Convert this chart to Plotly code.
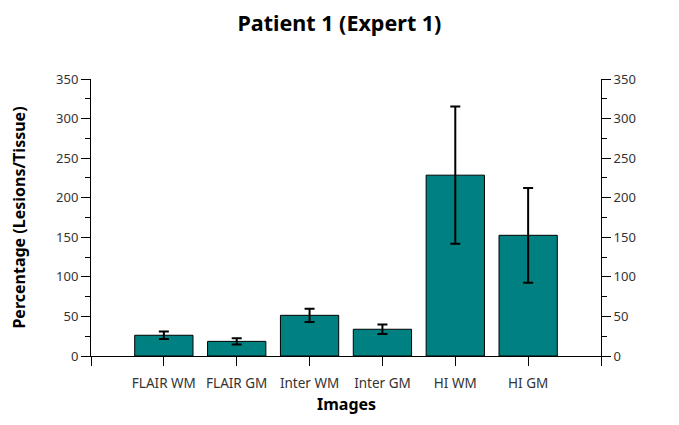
import plotly.graph_objects as go

categories = ["FLAIR WM", "FLAIR GM", "Inter WM", "Inter GM", "HI WM", "HI GM"]
percentages = [26.2, 18.5, 51.4, 33.8, 228.5, 152.5]
errors = [4.8, 4.0, 8.4, 6.1, 86.7, 59.8]
y_ticks = [0, 50, 100, 150, 200, 250, 300, 350]

positions = list(range(len(categories)))
x_tickvals = [-1] + positions + [len(categories)]
x_ticktext = [""] + categories + [""]

FONT = "Noto Sans"

fig = go.Figure()
fig.add_trace(go.Bar(
    x=positions, y=percentages, width=0.8,
    marker=dict(color="#008080", line=dict(color="black", width=1)),
    error_y=dict(type="data", array=errors, color="black", thickness=2, width=5),
    showlegend=False,
))
# invisible trace to drive the mirrored right axis
fig.add_trace(go.Scatter(x=[positions[0]], y=[0], yaxis="y2", mode="markers",
                         marker=dict(opacity=0), showlegend=False, hoverinfo="skip"))

axis_common = dict(
    range=[0, 350], tickvals=y_ticks, ticks="outside", ticklen=9, tickwidth=1,
    tickcolor="black", showline=True, linecolor="black", linewidth=1, automargin=False,
    showgrid=False, zeroline=False, tickfont=dict(family=FONT, size=13, color="#333"),
    minor=dict(dtick=25, ticks="outside", ticklen=5, tickcolor="black", showgrid=False),
)

# page body has an 8px margin, so the figure is sized to fit inside the window
fig.update_layout(
    width=671, height=417,
    margin=dict(l=83, r=78, t=71, b=69),
    plot_bgcolor="white", paper_bgcolor="white",
    title=dict(text="<b>Patient 1 (Expert 1)</b>", x=0.494, xanchor="center",
               y=0.980, yanchor="top", yref="container",
               font=dict(family=FONT, size=21.5, color="black")),
    xaxis=dict(
        range=[-1, len(categories)], tickvals=x_tickvals, ticktext=x_ticktext,
        ticks="outside", ticklen=9, tickcolor="black", showline=True, linecolor="black",
        showgrid=False, zeroline=False, automargin=False, ticklabelstandoff=6,
        tickfont=dict(family=FONT, size=13.5, color="#333"),
    ),
    yaxis=axis_common,
    yaxis2=dict(axis_common, overlaying="y", side="right"),
    annotations=[
        dict(text="<b>Images</b>", xref="paper", yref="paper", x=0.5, y=-0.173,
             xanchor="center", yanchor="middle", showarrow=False,
             font=dict(family=FONT, size=16, color="black")),
        dict(text="<b>Percentage (Lesions/Tissue)</b>", xref="paper", yref="paper",
             x=-0.143, y=0.5, xanchor="center", yanchor="middle", textangle=-90,
             showarrow=False, font=dict(family=FONT, size=16, color="black")),
    ],
)

fig.write_html("out.html")
